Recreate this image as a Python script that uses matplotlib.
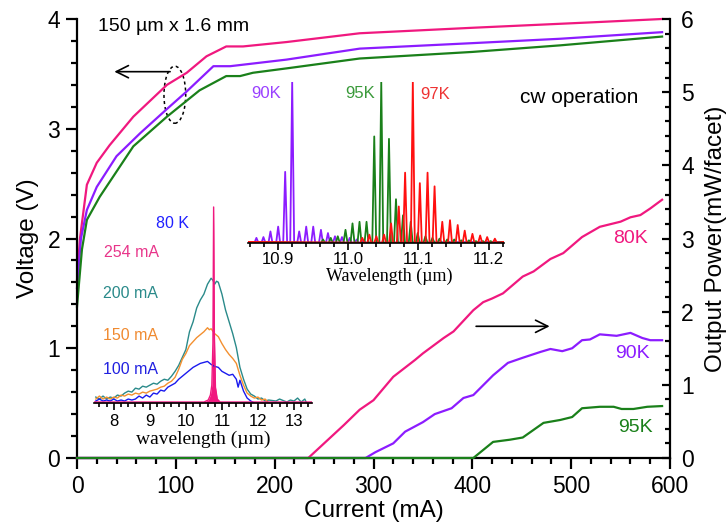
import numpy as np
import matplotlib
matplotlib.use("Agg")
import matplotlib.pyplot as plt
from matplotlib.patches import Ellipse
from matplotlib.ticker import MultipleLocator

plt.rcParams['font.family'] = ['Liberation Sans', 'DejaVu Sans']

# ---------------- L-I-V data (current in mA) ----------------
cur_v80 = [0, 3, 10, 20, 33, 57, 91, 111, 131, 151, 168, 212, 286, 400, 522, 592]
volt_80 = [1.62, 2.0, 2.49, 2.69, 2.85, 3.11, 3.40, 3.51, 3.66, 3.75, 3.75, 3.79, 3.87, 3.92, 3.97, 4.0]
cur_v90 = [0, 4, 10, 20, 40, 64, 91, 111, 138, 155, 212, 286, 400, 489, 592]
volt_90 = [1.55, 2.0, 2.26, 2.47, 2.75, 2.96, 3.18, 3.34, 3.57, 3.57, 3.63, 3.73, 3.78, 3.82, 3.88]
cur_v95 = [0, 5, 10, 23, 57, 91, 124, 151, 165, 178, 212, 286, 400, 489, 592]
volt_95 = [1.38, 1.9, 2.17, 2.38, 2.84, 3.11, 3.35, 3.48, 3.48, 3.51, 3.55, 3.64, 3.70, 3.76, 3.84]

cur_p80 = [0, 234, 250, 270, 286, 300, 320, 342, 350, 371, 381, 401, 411, 420, 431, 451, 462,
           479, 492, 511, 529, 550, 560, 570, 580, 592]
power_80 = [0, 0, 0.2, 0.45, 0.66, 0.79, 1.11, 1.34, 1.43, 1.64, 1.73, 2.02, 2.13, 2.18, 2.25,
            2.48, 2.55, 2.72, 2.80, 3.02, 3.16, 3.23, 3.29, 3.32, 3.41, 3.53]
cur_p90 = [0, 292, 302, 320, 332, 350, 362, 379, 391, 401, 421, 436, 451, 469, 479, 491, 501,
           511, 519, 529, 546, 560, 572, 580, 592]
power_90 = [0, 0, 0.08, 0.2, 0.36, 0.49, 0.6, 0.68, 0.82, 0.86, 1.13, 1.30, 1.37, 1.45, 1.49,
            1.46, 1.50, 1.61, 1.62, 1.69, 1.67, 1.71, 1.64, 1.61, 1.61]
cur_p95 = [0, 401, 421, 438, 451, 472, 489, 501, 511, 529, 543, 551, 563, 577, 592]
power_95 = [0, 0, 0.22, 0.25, 0.28, 0.48, 0.52, 0.56, 0.68, 0.70, 0.70, 0.67, 0.67, 0.70, 0.71]

# ---------------- 80 K spectra vs drive current (normalised intensity) ----------------
wl_200 = [7.5, 7.6, 7.7, 7.8, 7.9, 8.0, 8.1, 8.2, 8.3, 8.4, 8.5, 8.6, 8.7, 8.8, 8.9, 9.0, 9.1, 9.2,
          9.3, 9.4, 9.5, 9.6, 9.7, 9.8, 9.9, 10.0, 10.1, 10.2, 10.3, 10.4, 10.5, 10.6, 10.65, 10.7,
          10.75, 10.8, 10.85, 10.9, 11.0, 11.1, 11.2, 11.3, 11.4, 11.5, 11.6, 11.7, 11.8, 11.9,
          12.0, 12.1, 12.2, 12.3, 12.5, 12.6, 12.8, 12.9, 13.0, 13.1, 13.2, 13.3, 13.35]
int_200 = [0.03, 0.02, 0.035, 0.02, 0.03, 0.025, 0.04, 0.035, 0.05, 0.06, 0.055, 0.075, 0.07,
           0.085, 0.08, 0.09, 0.1, 0.095, 0.11, 0.12, 0.115, 0.135, 0.16, 0.19, 0.23, 0.27, 0.36,
           0.41, 0.48, 0.52, 0.55, 0.60, 0.615, 0.63, 0.62, 0.60, 0.615, 0.61, 0.55, 0.47, 0.41,
           0.35, 0.28, 0.18, 0.12, 0.07, 0.045, 0.035, 0.02, 0.025, 0.01, 0.015, 0.01, 0.02, 0.005,
           0.015, 0.01, 0.025, 0.005, 0.02, 0.0]
wl_150 = [7.5, 7.6, 7.7, 7.8, 7.9, 8.0, 8.1, 8.2, 8.3, 8.4, 8.5, 8.6, 8.7, 8.8, 8.9, 9.0, 9.1, 9.2,
          9.3, 9.4, 9.5, 9.6, 9.7, 9.8, 9.9, 10.0, 10.1, 10.2, 10.3, 10.4, 10.5, 10.6, 10.65, 10.7,
          10.8, 10.9, 11.0, 11.1, 11.2, 11.3, 11.4, 11.5, 11.6, 11.7, 11.8, 11.9, 12.0, 12.1, 12.2,
          12.3]
int_150 = [0.02, 0.035, 0.02, 0.03, 0.02, 0.03, 0.025, 0.04, 0.035, 0.045, 0.04, 0.05, 0.045,
           0.055, 0.05, 0.06, 0.065, 0.07, 0.08, 0.085, 0.1, 0.11, 0.13, 0.17, 0.22, 0.25, 0.29,
           0.31, 0.33, 0.345, 0.36, 0.38, 0.37, 0.375, 0.35, 0.335, 0.30, 0.27, 0.245, 0.225, 0.2,
           0.14, 0.09, 0.05, 0.035, 0.025, 0.03, 0.015, 0.02, 0.0]
wl_100 = [7.5, 7.6, 7.7, 7.8, 7.9, 8.0, 8.1, 8.2, 8.3, 8.4, 8.5, 8.6, 8.7, 8.8, 8.9, 9.0, 9.1, 9.2,
          9.3, 9.4, 9.5, 9.6, 9.7, 9.8, 9.9, 10.0, 10.1, 10.2, 10.3, 10.4, 10.5, 10.6, 10.7, 10.8,
          10.9, 11.0, 11.1, 11.2, 11.3, 11.4, 11.45, 11.5, 11.6, 11.7, 11.8, 11.9]
int_100 = [0.01, 0.02, 0.01, 0.015, 0.01, 0.02, 0.01, 0.015, 0.01, 0.02, 0.015, 0.02, 0.035, 0.025,
           0.04, 0.03, 0.05, 0.045, 0.065, 0.06, 0.08, 0.09, 0.1, 0.12, 0.135, 0.15, 0.165, 0.18,
           0.19, 0.2, 0.205, 0.21, 0.195, 0.185, 0.18, 0.16, 0.15, 0.14, 0.145, 0.12, 0.08, 0.115,
           0.06, 0.025, 0.01, 0.0]
wl_254 = [7.45, 10.5, 10.62, 10.68, 10.72, 10.75, 10.77, 10.79, 10.82, 10.87, 10.95, 13.5]
int_254 = [0.005, 0.005, 0.015, 0.04, 0.09, 0.3, 0.99, 0.35, 0.08, 0.02, 0.005, 0.005]

# ---------------- high-resolution spectra: mode positions (um) and heights ----------------
modes_90_wl = [10.869, 10.879, 10.889, 10.900, 10.910, 10.920, 10.930, 10.940, 10.950, 10.961,
               10.971, 10.981, 10.991, 11.002, 11.012, 11.022]
modes_90_h = [0.03, 0.035, 0.07, 0.10, 0.44, 1.0, 0.07, 0.10, 0.10, 0.08, 0.06, 0.04, 0.035,
              0.03, 0.02, 0.015]
modes_95_wl = [10.964, 10.975, 10.985, 10.996, 11.006, 11.016, 11.026, 11.037, 11.047, 11.058,
               11.068, 11.078, 11.089, 11.099, 11.110, 11.120, 11.130, 11.141, 11.151, 11.161,
               11.172, 11.182, 11.192, 11.203]
modes_95_h = [0.02, 0.03, 0.04, 0.08, 0.12, 0.13, 0.13, 0.66, 1.0, 0.645, 0.27, 0.17, 0.13, 0.06,
              0.04, 0.03, 0.025, 0.02, 0.02, 0.015, 0.015, 0.01, 0.01, 0.01]
modes_97_wl = [11.020, 11.030, 11.040, 11.051, 11.061, 11.072, 11.081, 11.092, 11.102, 11.113,
               11.123, 11.134, 11.145, 11.156, 11.166, 11.177, 11.188, 11.198, 11.209]
modes_97_h = [0.03, 0.05, 0.04, 0.05, 0.12, 0.225, 0.435, 1.0, 0.37, 0.435, 0.35, 0.13, 0.14,
              0.11, 0.075, 0.055, 0.045, 0.035, 0.025]

PINK = "#f0187f"
PURPLE = "#8c1cff"
GREEN = "#1a801a"

W, H = 727, 523
fig = plt.figure(figsize=(W / 100, H / 100), dpi=100)


def fx(px):
    return px / W


def fy(py):
    return 1 - py / H


ax = fig.add_axes([fx(77), fy(458), fx(670) - fx(77), fy(19) - fy(458)])
ax2 = ax.twinx()

for c, v, col in [(cur_v80, volt_80, PINK), (cur_v90, volt_90, PURPLE), (cur_v95, volt_95, GREEN)]:
    ax.plot(c, v, color=col, lw=1.6, clip_on=False)
for c, p, col in [(cur_p80, power_80, PINK), (cur_p90, power_90, PURPLE), (cur_p95, power_95, GREEN)]:
    ax2.plot(c, p, color=col, lw=1.6, clip_on=False, zorder=5)

ax.set_xlim(0, 600)
ax.set_ylim(0, 4)
ax2.set_ylim(0, 6)

for s in ["top", "right"]:
    ax.spines[s].set_visible(False)
for s in ["top", "left", "bottom"]:
    ax2.spines[s].set_visible(False)
for s in ["left", "bottom"]:
    ax.spines[s].set_linewidth(1.6)
ax2.spines["right"].set_linewidth(1.6)

ax.xaxis.set_major_locator(MultipleLocator(100))
ax.xaxis.set_minor_locator(MultipleLocator(20))
ax.yaxis.set_major_locator(MultipleLocator(1))
ax.yaxis.set_minor_locator(MultipleLocator(0.2))
ax2.yaxis.set_major_locator(MultipleLocator(1))
ax2.yaxis.set_minor_locator(MultipleLocator(0.2))

ax.tick_params(axis="both", which="major", direction="out", length=8, width=1.6,
               labelsize=16.5, pad=4)
ax.tick_params(axis="both", which="minor", direction="out", length=4.5, width=1.6)
ax2.tick_params(axis="y", which="major", direction="in", length=6, width=1.6,
                labelsize=16.5, pad=8)
ax2.tick_params(axis="y", which="minor", direction="in", length=3.5, width=1.6)

ax.set_xlabel("Current (mA)", fontsize=17.5, labelpad=2)
ax.set_ylabel("Voltage (V)", fontsize=17.5, labelpad=6)
ax2.set_ylabel("Output Power(mW/facet)", fontsize=17.5, labelpad=8)

# annotations on the main plot
ax.text(21, 3.93, "150 \u00b5m x 1.6 mm", fontsize=14, va="center", ha="left")
ax2.text(508, 4.93, "cw operation", fontsize=15, ha="center", va="center")
ax2.text(560, 3.0, "80K", color=PINK, fontsize=14, ha="center", va="center")
ax2.text(562, 1.43, "90K", color=PURPLE, fontsize=14, ha="center", va="center")
ax2.text(565, 0.42, "95K", color=GREEN, fontsize=14, ha="center", va="center")

ax.add_patch(Ellipse((99, 3.31), 22, 0.52, fill=False, ls=(0, (2, 2)), lw=1.1, color="black"))
ax.annotate("", xy=(35, 3.52), xytext=(97, 3.52),
            arrowprops=dict(arrowstyle="->", lw=1.2, color="black", mutation_scale=22))
ax2.annotate("", xy=(481, 1.80), xytext=(401, 1.80),
             arrowprops=dict(arrowstyle="->", lw=1.2, color="black", mutation_scale=22))

# ---------------- inset: 80 K spectra ----------------
axa = fig.add_axes([fx(94), fy(403), fx(312) - fx(94), fy(205) - fy(403)])
axa.patch.set_alpha(0)
axa.plot(wl_200, int_200, color="#2a8a8a", lw=1.0)
axa.plot(wl_150, int_150, color="#f39030", lw=1.0)
axa.plot(wl_100, int_100, color="#1a1aee", lw=1.0)
axa.plot(wl_254, int_254, color=PINK, lw=1.0)
axa.fill_between(wl_254, int_254, color=PINK, lw=0)
axa.set_xlim(7.45, 13.5)
axa.set_ylim(0, 1)
for s in ["top", "right", "left"]:
    axa.spines[s].set_visible(False)
axa.spines["bottom"].set_linewidth(1.2)
axa.set_yticks([])
axa.xaxis.set_major_locator(MultipleLocator(1))
axa.xaxis.set_minor_locator(MultipleLocator(0.2))
axa.tick_params(axis="x", which="major", direction="out", length=5, width=1.2, labelsize=12, pad=3)
axa.tick_params(axis="x", which="minor", direction="out", length=3, width=1.2)
axa.set_xlabel("wavelength (\u00b5m)", fontsize=14, family=["Liberation Serif", "DejaVu Serif"],
               labelpad=1)

fig.text(fx(172), fy(223), "80 K", color="#2020ff", fontsize=11.5, ha="center", va="center")
fig.text(fx(104), fy(253), "254 mA", color="#e8358a", fontsize=11.5, ha="left", va="center")
fig.text(fx(103), fy(293), "200 mA", color="#2a8a8a", fontsize=11.5, ha="left", va="center")
fig.text(fx(103), fy(335), "150 mA", color="#f08a30", fontsize=11.5, ha="left", va="center")
fig.text(fx(103), fy(370), "100 mA", color="#2020e0", fontsize=11.5, ha="left", va="center")

# ---------------- inset: high-resolution spectra ----------------
axb = fig.add_axes([fx(248), fy(242.7), fx(504) - fx(248), fy(81.7) - fy(242.7)])
axb.patch.set_alpha(0)
hw = 0.0028


def mode_trace(centers, heights):
    xs, ys = [], []
    for c, h in zip(centers, heights):
        xs += [c - hw, c, c + hw]
        ys += [0, h, 0]
    return xs, ys


for wl, hh, col in [(modes_90_wl, modes_90_h, PURPLE), (modes_95_wl, modes_95_h, GREEN),
                    (modes_97_wl, modes_97_h, "#ff1010")]:
    x, y = mode_trace(wl, hh)
    axb.plot([10.857] + x + [11.222], [0.005] + y + [0.005], color=col, lw=1.3)

axb.set_xlim(10.857, 11.222)
axb.set_ylim(0, 1)
for s in ["top", "right", "left"]:
    axb.spines[s].set_visible(False)
axb.spines["bottom"].set_linewidth(1.2)
axb.set_yticks([])
axb.xaxis.set_major_locator(MultipleLocator(0.1))
axb.xaxis.set_minor_locator(MultipleLocator(0.02))
axb.tick_params(axis="x", which="major", direction="out", length=5, width=1.2, labelsize=12, pad=2)
axb.tick_params(axis="x", which="minor", direction="out", length=3, width=1.2)
fig.text(fx(389), fy(276), "Wavelength (\u00b5m)", fontsize=13,
         family=["Liberation Serif", "DejaVu Serif"], ha="center", va="center")

fig.text(fx(266), fy(93), "90K", color="#9a40ff", fontsize=12, ha="center", va="center")
fig.text(fx(360), fy(93), "95K", color="#3a9a3a", fontsize=12, ha="center", va="center")
fig.text(fx(435), fy(95), "97K", color="#ee3333", fontsize=12, ha="center", va="center")

fig.savefig("out.png", dpi=100)
